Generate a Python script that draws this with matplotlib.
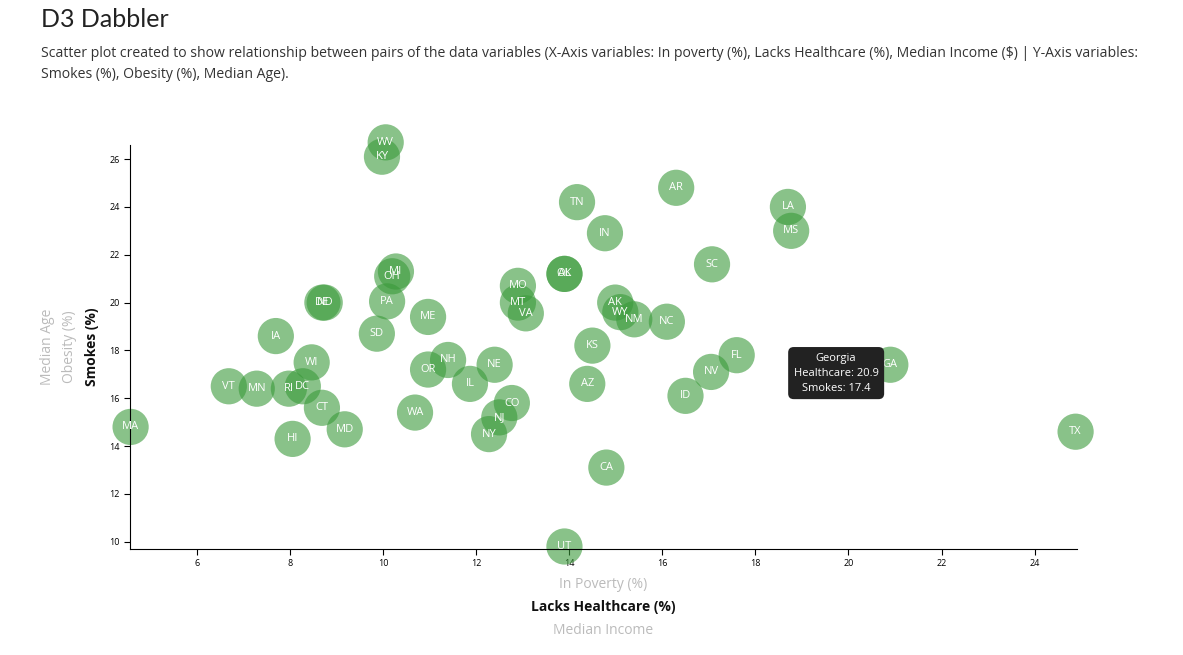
import matplotlib
matplotlib.use("Agg")
import matplotlib.pyplot as plt

states = ["WV","KY","TN","AR","LA","MS","IN","SC","OH","MI","OK","AL","MO","MT","VA","AK","WY","NM","NC",
          "DE","ND","PA","ME","SD","IA","KS","WI","NH","NE","OR","FL","NV","GA","VT","MN","RI","DC","IL","AZ",
          "ID","CO","CT","WA","NJ","MA","MD","NY","HI","TX","CA","UT"]
healthcare = [10.06,9.98,14.17,16.3,18.7,18.77,14.77,17.07,10.2,10.28,13.9,13.9,12.9,12.9,13.07,14.99,15.1,15.4,16.1,
              8.7,8.75,10.09,10.97,9.87,7.7,14.5,8.47,11.4,12.4,10.97,17.6,17.05,20.9,6.69,7.29,7.98,8.28,11.87,14.39,
              16.5,12.77,8.69,10.69,12.5,4.58,9.18,12.28,8.06,24.88,14.8,13.9]
smokes = [26.7,26.1,24.2,24.8,24.0,23.0,22.9,21.6,21.1,21.3,21.2,21.2,20.7,20.0,19.55,20.0,19.6,19.3,19.2,
          20.0,20.0,20.05,19.4,18.7,18.6,18.2,17.5,17.6,17.4,17.2,17.8,17.1,17.4,16.5,16.4,16.4,16.5,16.6,16.6,
          16.1,15.8,15.6,15.4,15.2,14.8,14.7,14.5,14.3,14.6,13.1,9.8]
xticks = [6,8,10,12,14,16,18,20,22,24]
yticks = [10,12,14,16,18,20,22,24,26]

plt.rcParams['font.family'] = ['Open Sans', 'DejaVu Sans']
fig = plt.figure(figsize=(11.83,6.55), dpi=100)
fig.text(0.035,0.97,"D3 Dabbler",fontsize=18,color="#222",va="center",family="Lato")
fig.text(0.035,0.918,"Scatter plot created to show relationship between pairs of the data variables (X-Axis variables: In poverty (%), Lacks Healthcare (%), Median Income ($) | Y-Axis variables:",fontsize=10.1,color="#333",va="center")
fig.text(0.035,0.886,"Smokes (%), Obesity (%), Median Age).",fontsize=10.1,color="#333",va="center")

ax = fig.add_axes([0.110,0.162,0.800,0.617])
ax.scatter(healthcare,smokes,s=680,color="#3a9a3a",alpha=0.6,edgecolors="none",zorder=2,clip_on=False)
for s,x,y in zip(states,healthcare,smokes):
    ax.text(x,y,s,color="white",fontsize=8,ha="center",va="center",zorder=3,clip_on=False)
ax.set_xlim(4.57,24.9)
ax.set_ylim(9.7,26.6)
ax.set_xticks(xticks); ax.set_yticks(yticks)
ax.tick_params(labelsize=6.5,length=4)
for sp in ["top","right"]:
    ax.spines[sp].set_visible(False)
ax.annotate("Georgia\nHealthcare: 20.9\nSmokes: 17.4",xy=(20.9,17.4),xytext=(-39,-6),textcoords="offset points",
            ha="center",va="center",color="white",fontsize=8,linespacing=1.5,zorder=5,
            bbox=dict(boxstyle="round,pad=0.5",fc="#222",ec="none"))

fig.text(0.51,0.107,"In Poverty (%)",ha="center",va="center",fontsize=10,color="#bbb")
fig.text(0.51,0.074,"Lacks Healthcare (%)",ha="center",va="center",fontsize=10,color="#111",weight="bold")
fig.text(0.51,0.038,"Median Income",ha="center",va="center",fontsize=10,color="#bbb")
fig.text(0.040,0.47,"Median Age",ha="center",va="center",fontsize=10,color="#bbb",rotation=90)
fig.text(0.059,0.47,"Obesity (%)",ha="center",va="center",fontsize=10,color="#bbb",rotation=90)
fig.text(0.078,0.47,"Smokes (%)",ha="center",va="center",fontsize=10,color="#111",weight="bold",rotation=90)
fig.savefig("out.png",dpi=100)
